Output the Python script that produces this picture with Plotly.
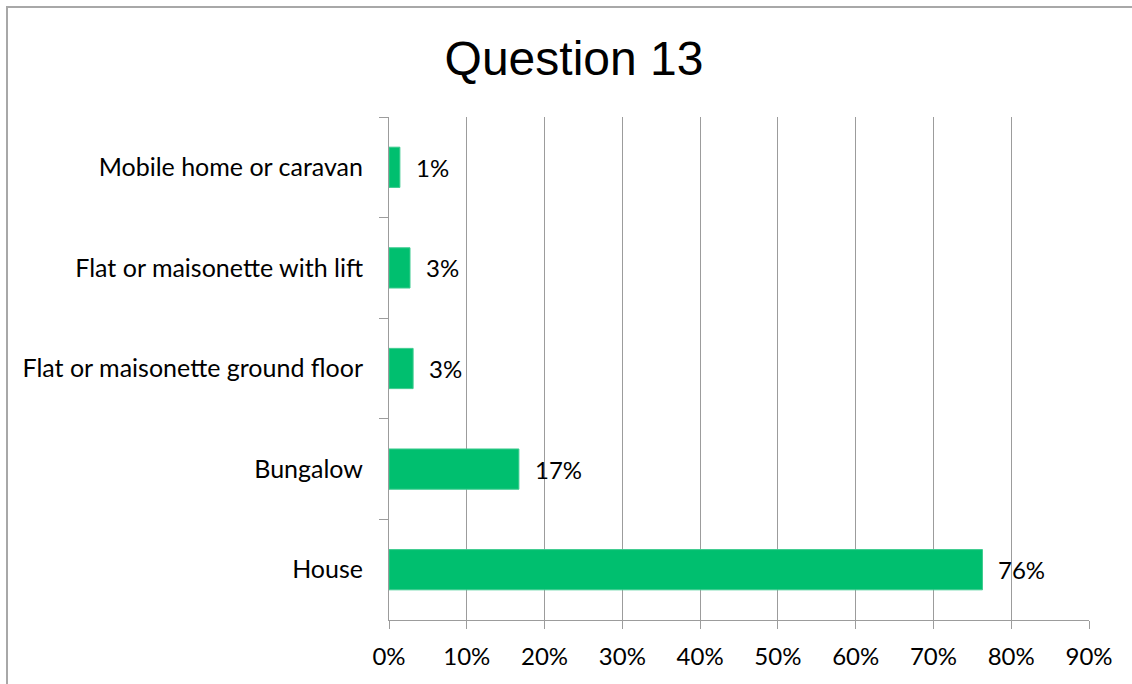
import plotly.graph_objects as go

# Survey responses, listed top to bottom as shown on the chart
categories = [
    "Mobile home or caravan",
    "Flat or maisonette with lift",
    "Flat or maisonette ground floor",
    "Bungalow",
    "House",
]
shares = [1.4, 2.7, 3.1, 16.7, 76.3]  # percent of respondents
x_ticks = [0, 10, 20, 30, 40, 50, 60, 70, 80, 90]
x_tick_labels = [f"{v}%" for v in x_ticks]

W, H = 1132, 684
ML, MR, MT, MB = 389, 43, 117, 64
plot_w = W - ML - MR
plot_h = H - MT - MB

BAR = "#00BF6F"
GRID = "#9C9C9C"
BODY_FONT = "Lato, Carlito, Calibri, sans-serif"
BODY_SIZE = 24

fig = go.Figure(
    go.Bar(
        x=shares,
        y=categories,
        orientation="h",
        marker=dict(color=BAR, line=dict(color="#3DCB8F", width=1)),
        hoverinfo="skip",
    )
)

# Value labels just past the end of each bar
for cat, val in zip(categories, shares):
    fig.add_annotation(
        x=val, y=cat, xref="x", yref="y",
        text=f"{val:.0f}%", showarrow=False,
        xanchor="left", yanchor="middle", xshift=14,
        font=dict(family=BODY_FONT, size=BODY_SIZE, color="#000000"),
    )

# Outer chart frame (left and top edges sit inside the page)
fig.add_shape(
    type="rect", xref="paper", yref="paper",
    x0=(7 - ML) / plot_w, x1=1.2,
    y0=-0.3, y1=1 + (MT - 7) / plot_h,
    line=dict(color="#A8A8A8", width=2), fillcolor="rgba(0,0,0,0)",
    layer="below",
)

fig.update_layout(
    width=W, height=H,
    margin=dict(l=ML, r=MR, t=MT, b=MB),
    paper_bgcolor="white", plot_bgcolor="white",
    bargap=0.6,
    showlegend=False,
    title=dict(
        text="Question 13",
        x=574 / W, xref="container", xanchor="center",
        y=1 - 58 / H, yref="container", yanchor="middle",
        font=dict(family="Liberation Sans, Arial, sans-serif", size=48, color="#000000"),
    ),
    font=dict(family=BODY_FONT, size=BODY_SIZE, color="#000000"),
)

fig.update_xaxes(
    range=[0, 90],
    tickvals=x_ticks, ticktext=x_tick_labels,
    showgrid=True, gridcolor=GRID, gridwidth=1,
    showline=True, linecolor=GRID, linewidth=1,
    ticks="outside", ticklen=8, tickcolor=GRID,
    ticklabelstandoff=7,
    zeroline=False, fixedrange=True,
)
fig.update_yaxes(
    autorange="reversed",
    showgrid=False,
    showline=True, linecolor=GRID, linewidth=1,
    ticks="outside", ticklen=9, tickcolor=GRID,
    tickson="boundaries",
    ticklabelstandoff=20,
    tickfont=dict(family=BODY_FONT, size=25, color="#000000"),
    fixedrange=True,
)

fig.write_html("out.html")
